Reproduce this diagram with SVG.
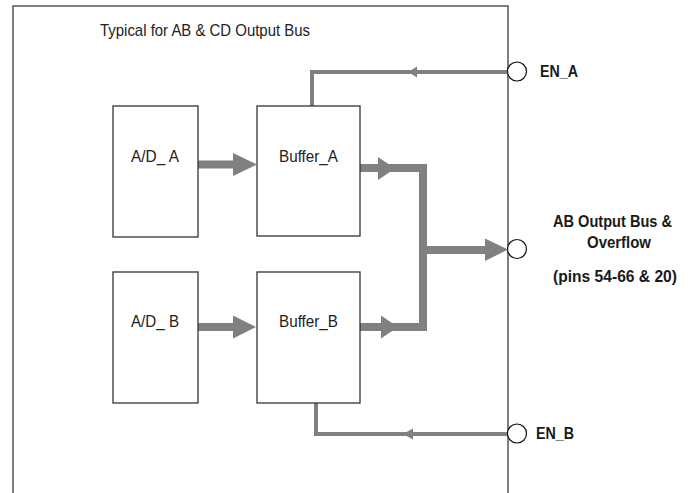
<svg xmlns="http://www.w3.org/2000/svg" width="692" height="493" viewBox="0 0 692 493">
<style>
.box{fill:#fff;stroke:#333;stroke-width:1.3}
.lbl{font-family:"Liberation Sans",Arial,sans-serif;font-size:17px;fill:#222}
.b{font-weight:bold;fill:#1a1a1a}
.bus{stroke:#808080;stroke-width:8;fill:none}
.en{stroke:#808080;stroke-width:4;fill:none}
.ah{fill:#808080}
.pin{fill:#fff;stroke:#111;stroke-width:1.2}
</style>
<rect width="692" height="493" fill="#fff"/>
<g id="frame">
<path d="M13,493 V6 H508 V493" fill="none" stroke="#555" stroke-width="1.5"/>
<text class="lbl" x="100" y="36" font-size="18" textLength="210" lengthAdjust="spacingAndGlyphs">Typical for AB &amp; CD Output Bus</text>
</g>
<g id="connectors">
<path class="bus" d="M198,164.5 H236"/>
<polygon class="ah" points="233,153 257,164.5 233,176"/>
<path class="bus" d="M198,327 H236"/>
<polygon class="ah" points="233,315.5 256,327 233,338.5"/>
<path class="bus" d="M360,168 H423 V327 H360"/>
<polygon class="ah" points="378,157 395,168.5 378,180"/>
<polygon class="ah" points="381,315.5 398,327 381,338.5"/>
<path class="bus" d="M423,250 H488"/>
<polygon class="ah" points="485,238.5 508,249.5 485,261"/>
<path class="en" d="M508,72 H312 V106"/>
<polygon class="ah" points="408,72 417,66.5 417,77.5"/>
<path class="en" d="M508,434 H316 V403"/>
<polygon class="ah" points="403,434 413,428.5 413,439.5"/>
</g>
<g id="ad_a">
<rect class="box" x="113" y="106" width="85" height="131"/>
<text class="lbl" x="131" y="161.5" textLength="48" lengthAdjust="spacingAndGlyphs">A/D_ A</text>
</g>
<g id="buffer_a">
<rect class="box" x="257" y="106" width="103" height="130"/>
<text class="lbl" x="279" y="161.5" textLength="59" lengthAdjust="spacingAndGlyphs">Buffer_A</text>
</g>
<g id="ad_b">
<rect class="box" x="113" y="272" width="85" height="131"/>
<text class="lbl" x="131" y="327" textLength="48" lengthAdjust="spacingAndGlyphs">A/D_ B</text>
</g>
<g id="buffer_b">
<rect class="box" x="257" y="272" width="103" height="131"/>
<text class="lbl" x="279" y="327" textLength="59" lengthAdjust="spacingAndGlyphs">Buffer_B</text>
</g>
<g id="en_a">
<circle class="pin" cx="517" cy="71.5" r="9.5"/>
<text class="lbl b" x="540" y="77" textLength="38" lengthAdjust="spacingAndGlyphs">EN_A</text>
</g>
<g id="output_bus">
<circle class="pin" cx="517" cy="249" r="9.5"/>
<text class="lbl b" x="553" y="227" textLength="119" lengthAdjust="spacingAndGlyphs">AB Output Bus &amp;</text>
<text class="lbl b" x="587" y="248" textLength="64" lengthAdjust="spacingAndGlyphs">Overflow</text>
<text class="lbl b" x="553" y="282" textLength="124" lengthAdjust="spacingAndGlyphs">(pins 54-66 &amp; 20)</text>
</g>
<g id="en_b">
<circle class="pin" cx="517" cy="433.5" r="9.5"/>
<text class="lbl b" x="536" y="439" textLength="38" lengthAdjust="spacingAndGlyphs">EN_B</text>
</g>
</svg>
